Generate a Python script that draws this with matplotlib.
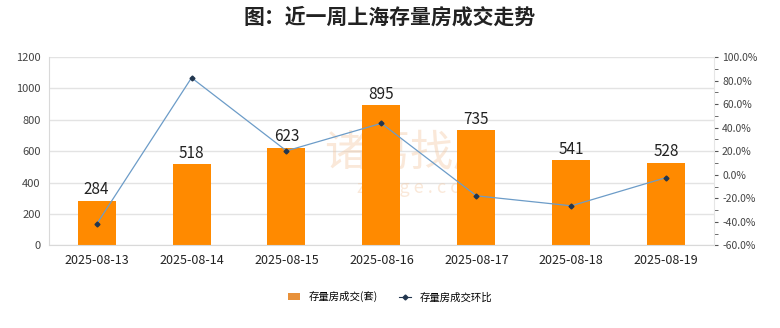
import matplotlib.pyplot as plt
from matplotlib.ticker import FuncFormatter, MultipleLocator
from matplotlib.lines import Line2D
from matplotlib.patches import Patch

plt.rcParams['font.family'] = ['Noto Sans CJK SC', 'DejaVu Sans']

# Weekly second-hand housing deals in Shanghai
dates = ["2025-08-13", "2025-08-14", "2025-08-15", "2025-08-16",
         "2025-08-17", "2025-08-18", "2025-08-19"]
deals = [284, 518, 623, 895, 735, 541, 528]
# day-over-day change, percent
change_pct = [-42.0, 82.4, 20.3, 43.7, -17.9, -26.4, -2.4]

bar_color = "#FF8A00"
line_color = "#6C9CC8"
marker_color = "#22364F"
grid_color = "#E3E3E3"
text_color = "#222222"

fig = plt.figure(figsize=(7.8, 3.28), dpi=100)
ax = fig.add_axes([0.063, 0.252, 0.852, 0.574])
ax2 = ax.twinx()

x = list(range(len(dates)))
bars = ax.bar(x, deals, width=0.4, color=bar_color, zorder=2)
for xi, v in zip(x, deals):
    ax.text(xi, v + 15, str(v), ha="center", va="bottom", fontsize=11,
            color=text_color, zorder=5)

ax.set_xlim(-0.5, len(dates) - 0.5)
ax.set_ylim(0, 1200)
ax.yaxis.set_major_locator(MultipleLocator(200))
ax.grid(axis="y", color=grid_color, linewidth=1, zorder=0)
ax.set_axisbelow(True)
ax.set_xticks(x)
ax.set_xticklabels(dates, fontsize=9, color=text_color)
ax.tick_params(axis="x", length=0, pad=6)
ax.tick_params(axis="y", length=0, labelsize=8, labelcolor="#444444", pad=6)
for side in ["top", "right"]:
    ax.spines[side].set_visible(False)
for side in ["left", "bottom"]:
    ax.spines[side].set_color("#D9D9D9")

# faint site watermark
ax.text(3.3, 585, "诸葛找房", ha="center", va="center", fontsize=31,
        color="#F3C7A0", alpha=0.4, zorder=1)
ax.text(3.4, 365, "z h u g e . c o m", ha="center", va="center", fontsize=13,
        color="#F3C7A0", alpha=0.4, zorder=1)

ax2.plot(x, change_pct, color=line_color, linewidth=0.9, marker="D",
         markersize=2.5, markerfacecolor=marker_color,
         markeredgecolor=marker_color, zorder=4)
ax2.set_ylim(-60, 100)
ax2.yaxis.set_major_locator(MultipleLocator(20))
ax2.yaxis.set_minor_locator(MultipleLocator(10))
ax2.yaxis.set_major_formatter(FuncFormatter(lambda v, _: f"{v:.1f}%"))
ax2.tick_params(axis="y", which="major", length=3, color="#555555",
                labelsize=7.5, labelcolor="#444444", pad=3)
ax2.tick_params(axis="y", which="minor", length=3, color="#555555")
for side in ["top", "left", "bottom"]:
    ax2.spines[side].set_visible(False)
ax2.spines["right"].set_color("#E6E6E6")

fig.text(0.5, 0.948, "图：近一周上海存量房成交走势", ha="center", va="center",
         fontsize=15, fontweight="bold", color=text_color)

handles = [Patch(facecolor="#E8913A", edgecolor="none"),
           Line2D([0], [0], color=marker_color, linewidth=0.8, marker="D",
                  markersize=2.5)]
fig.legend(handles, ["存量房成交(套)", "存量房成交环比"], loc="center",
           bbox_to_anchor=(0.5, 0.095), ncol=2, frameon=False, fontsize=7.5,
           handlelength=1.2, handleheight=0.7, columnspacing=2.0)

fig.savefig("out.png", dpi=100, facecolor="white")
